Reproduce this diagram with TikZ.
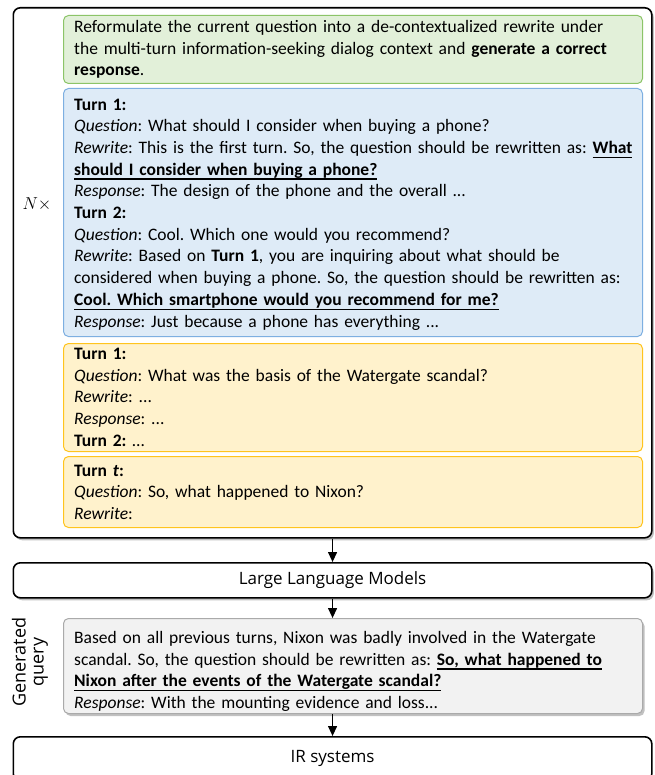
\documentclass[tikz,border=0pt]{standalone}
\usepackage{fontspec}
\setmainfont{Carlito}
\newfontfamily\comicf{Open Sans}
\usetikzlibrary{arrows.meta,shadows}
\definecolor{gfill}{RGB}{226,240,217}
\definecolor{gline}{RGB}{140,196,104}
\definecolor{bfill}{RGB}{222,235,247}
\definecolor{bline}{RGB}{125,175,225}
\definecolor{yfill}{RGB}{255,242,204}
\definecolor{yline}{RGB}{255,196,30}
\definecolor{grfill}{RGB}{242,242,242}
\definecolor{grline}{RGB}{170,170,170}
\newsavebox\ulbox
\newcommand{\ulb}[1]{\leavevmode\sbox\ulbox{\textbf{#1}}\rlap{\rule[-4.5pt]{\wd\ulbox}{1.3pt}}\usebox\ulbox}
\tikzset{
  blackbox/.style={draw=black, line width=1.6pt, rounded corners=7pt, fill=white, anchor=north west, inner sep=0pt},
  shadowed/.style={drop shadow={shadow xshift=2pt, shadow yshift=-2.5pt, opacity=0.35, fill=black!70}},
  colbox/.style={line width=1pt, rounded corners=5pt, anchor=north west, inner sep=0pt, minimum width=579pt},
  txt/.style={anchor=north west, inner sep=0pt, align=left, text width=578pt, font=\frenchspacing\fontsize{17.5}{21.7}\selectfont},
  arr/.style={line width=1.2pt, -{Triangle[length=10pt,width=9pt]}},
  comic/.style={font=\comicf\fontsize{17}{19}\selectfont}
}
\begin{document}
\begin{tikzpicture}[x=1pt,y=1pt]
\useasboundingbox (0,0) rectangle (654,-775);
\clip (0,0) rectangle (654,-775);
% outer box
\node[blackbox, shadowed, minimum width=638.5pt, minimum height=530pt] (outer) at (12.5,-7) {};
% coloured boxes
\node[colbox, draw=gline, fill=gfill, minimum height=68pt] (green) at (63,-15) {};
\node[colbox, draw=bline, fill=bfill, minimum height=248pt] (blue) at (63,-88) {};
\node[colbox, draw=yline, fill=yfill, minimum height=108pt] (yel1) at (63,-343) {};
\node[colbox, draw=yline, fill=yfill, minimum height=71pt] (yel2) at (63,-456) {};
% texts
\node[txt] (tgreen) at (74,-17) {\strut Reformulate the current question into a de-contextualized rewrite under\\
the multi-turn information-seeking dialog context and \textbf{generate a correct}\\
\textbf{response}.};
\node[txt] (tblue) at (74,-94.7) {\strut\textbf{Turn 1:}\\
\textit{Question}: What should I consider when buying a phone?\\
\textit{Rewrite}: This is the first turn. So, the question should be rewritten as: \ulb{What}\\
\ulb{should I consider when buying a phone?}\\
\textit{Response}: The design of the phone and the overall ...\\
\textbf{Turn 2:}\\
\textit{Question}: Cool. Which one would you recommend?\\
\textit{Rewrite}: Based on \textbf{Turn 1}, you are inquiring about what should be\\
considered when buying a phone. So, the question should be rewritten as:\\
\ulb{Cool. Which smartphone would you recommend for me?}\\
\textit{Response}: Just because a phone has everything ...};
\node[txt] (tyel1) at (74,-344) {\strut\textbf{Turn 1:}\\
\textit{Question}: What was the basis of the Watergate scandal?\\
\textit{Rewrite}: ...\\
\textit{Response}: ...\\
\textbf{Turn 2:} …};
\node[txt] (tyel2) at (74,-460.7) {\strut\textbf{Turn \textit{t}:}\\
\textit{Question}: So, what happened to Nixon?\\
\textit{Rewrite}:};
\node[anchor=center, inner sep=0pt, font=\fontsize{16}{19}\selectfont] (ntimes) at (37,-204) {$N\times$};
% LLM
\node[blackbox, shadowed, minimum width=638.5pt, minimum height=35pt, comic] (llm) at (12.5,-562) {Large Language Models};
% generated query
\node[colbox, draw=grline, fill=grfill, shadowed, minimum height=95pt] (gray) at (63,-618) {};
\node[txt] (tgray) at (74,-628) {\strut Based on all previous turns, Nixon was badly involved in the Watergate\\
scandal. So, the question should be rewritten as: \ulb{So, what happened to}\\
\ulb{Nixon after the events of the Watergate scandal?}\\
\textit{Response}: With the mounting evidence and loss...};
\node[rotate=90, align=center, inner sep=0pt, font=\comicf\fontsize{18}{18}\selectfont] (genq) at (30,-662) {Generated\\query};
% IR
\node[blackbox, minimum width=638.5pt, minimum height=44pt, comic] (ir) at (12.5,-736) {IR systems};
% arrows
\draw[arr] (outer.south) -- (llm.north);
\draw[arr] (llm.south) -- (llm.south |- gray.north);
\draw[arr] (llm.south |- gray.south) -- (ir.north);
\end{tikzpicture}
\end{document}
